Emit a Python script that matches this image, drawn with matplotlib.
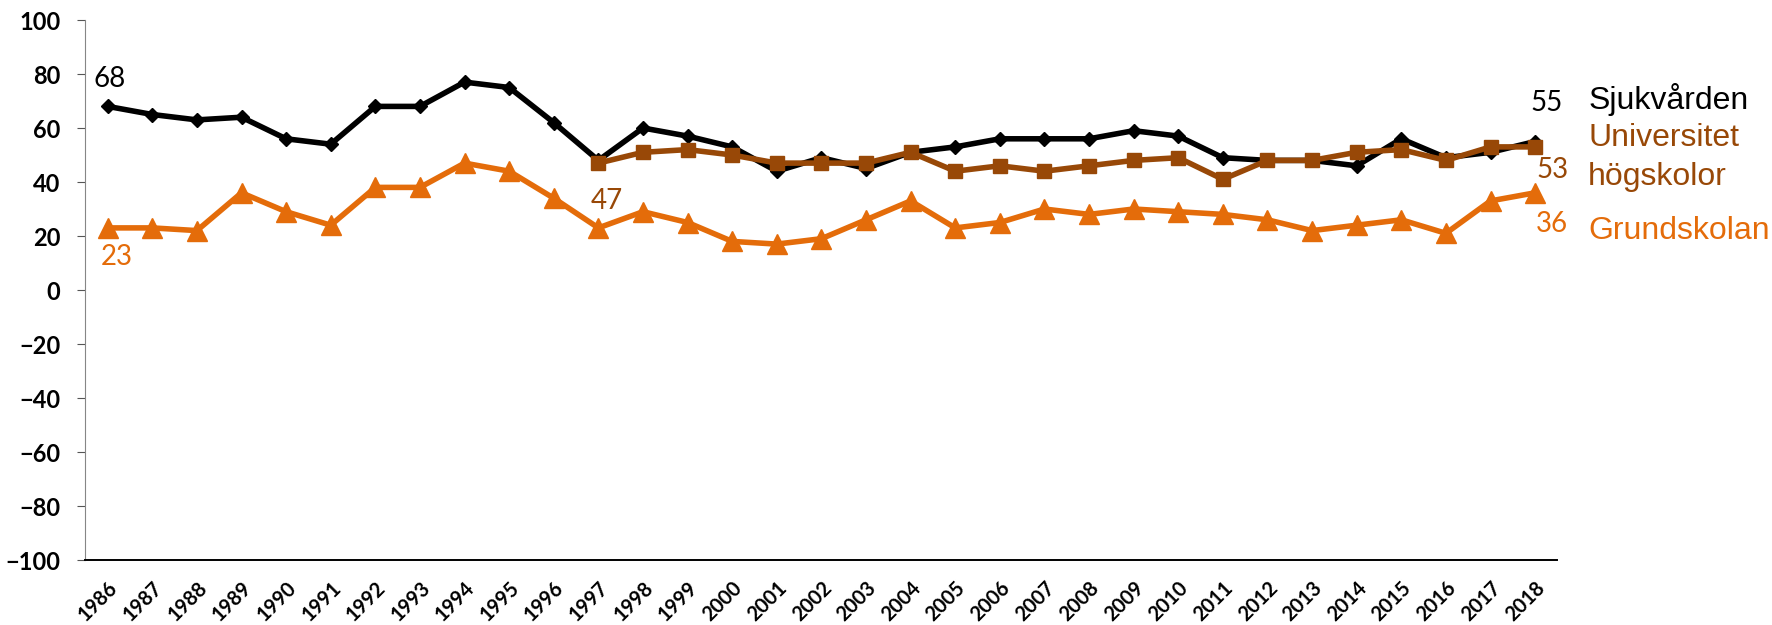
import numpy as np
import matplotlib.pyplot as plt

years = list(range(1986, 2019))
sjukvarden = [68, 65, 63, 64, 56, 54, 68, 68, 77, 75, 62, 48, 60, 57, 53, 44, 49, 45, 51,
              53, 56, 56, 56, 59, 57, 49, 48, 48, 46, 56, 49, 51, 55]
# Universitet/högskolor starts 1997
univ_years = list(range(1997, 2019))
universitet = [47, 51, 52, 50, 47, 47, 47, 51, 44, 46, 44, 46, 48, 49, 41, 48, 48, 51,
               52, 48, 53, 53]
grundskolan = [23, 23, 22, 36, 29, 24, 38, 38, 47, 44, 34, 23, 29, 25, 18, 17, 19, 26, 33,
               23, 25, 30, 28, 30, 29, 28, 26, 22, 24, 26, 21, 33, 36]

BLACK = '#000000'
BROWN = '#984807'
ORANGE = '#E46C0A'

fig = plt.figure(figsize=(17.72, 6.25), dpi=100)
ax = fig.add_axes([0.0482, 0.104, 0.8307, 0.864])

x = np.arange(len(years))
xu = np.array([years.index(y) for y in univ_years])

ax.plot(x, grundskolan, color=ORANGE, lw=4, marker='^', ms=14, zorder=3)
ax.plot(x, sjukvarden, color=BLACK, lw=4, marker='D', ms=7.5, zorder=4)
ax.plot(xu, universitet, color=BROWN, lw=4, marker='s', ms=10.5, zorder=5)

ax.set_xlim(-0.5, len(years) - 0.5)
ax.set_ylim(-100, 100)
ax.set_yticks(np.arange(-100, 101, 20))
ax.set_xticks(x)
ax.set_xticklabels([str(y) for y in years], rotation=45, ha='right', va='top',
                   rotation_mode='anchor', fontsize=14.5, fontweight='bold', family='Lato')
for lab in ax.get_yticklabels():
    lab.set_fontsize(17)
    lab.set_fontweight('bold')
    lab.set_family('Lato')

ax.spines['top'].set_visible(False)
ax.spines['right'].set_visible(False)
ax.spines['left'].set_color('#868686')
ax.spines['bottom'].set_color('black')
ax.spines['bottom'].set_linewidth(1.4)
ax.tick_params(axis='y', length=6, color='#555555', pad=12)
ax.tick_params(axis='x', length=0, pad=13)

# value labels
lab_kw = dict(fontsize=20, family='Lato', ha='center', va='center', clip_on=False)
ax.text(0.05, 78.1, '68', color=BLACK, **lab_kw)
ax.text(0.2, 12.2, '23', color=ORANGE, **lab_kw)
ax.text(11.2, 33, '47', color=BROWN, **lab_kw)
ax.text(32.25, 69.4, '55', color=BLACK, **lab_kw)
ax.text(32.38, 44.4, '53', color=BROWN, **lab_kw)
ax.text(32.38, 24.4, '36', color=ORANGE, **lab_kw)

# series names
name_kw = dict(fontsize=23, family='Liberation Sans', ha='left', va='center', clip_on=False)
ax.text(33.19, 70.5, 'Sjukvården', color=BLACK, **name_kw)
ax.text(33.19, 49, 'Universitet\nhögskolor', color=BROWN, linespacing=1.4, **name_kw)
ax.text(33.19, 21.7, 'Grundskolan', color=ORANGE, **name_kw)

fig.savefig('out.png', dpi=100)
